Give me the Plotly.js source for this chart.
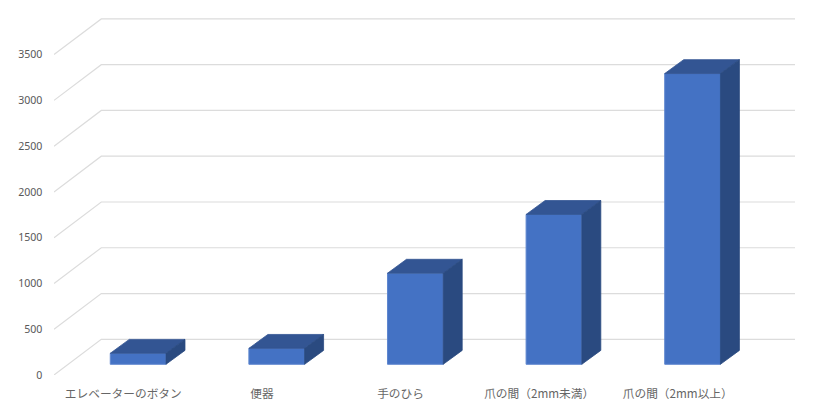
<!DOCTYPE html>
<html>
<head>
<meta charset="utf-8">
<script src="https://cdn.plot.ly/plotly-3.0.1.min.js"></script>
<style>html,body{margin:0;padding:0;background:#fff}#c{width:817px;height:407px}</style>
</head>
<body>
<div id="c"></div>
<script>
const categories = ["エレベーターのボタン", "便器", "手のひら", "爪の間（2mm未満）", "爪の間（2mm以上）"];
const values = [120, 174, 995, 1637, 3176];
const yTicks = [0, 500, 1000, 1500, 2000, 2500, 3000, 3500];

const xMin = -0.5, xMax = 4.846;
const yMax = 3900;
const wallDx = 0.341, wallDy = 390;   // oblique offset of the back wall
const barShift = 0.107, barLift = 117; // where the bar's front stands on the floor
const barWidth = 0.402;
const depthDx = 0.137, depthDy = 152;  // oblique depth of each bar

const indices = categories.map((_, i) => i);
const shapes = yTicks.map(v => ({
  type: "path", layer: "below", xref: "x", yref: "y",
  path: `M${xMin},${v} L${xMin + wallDx},${v + wallDy} L${xMax},${v + wallDy}`,
  line: {color: "#dcdcdc", width: 1.2}
}));

const front = {
  type: "bar", x: indices.map(i => i + barShift), y: values, base: values.map(() => barLift),
  width: barWidth,
  marker: {color: "#4472c4", line: {color: "#5f87cf", width: 1}},
  hoverinfo: "y"
};
const face = (xs, ys, color) => ({
  type: "scatter", mode: "lines", x: xs, y: ys, fill: "toself", fillcolor: color,
  line: {color: color, width: 0.8}, hoverinfo: "skip"
});
const tops = indices.map(i => {
  const l = i + barShift - barWidth / 2, r = l + barWidth, t = barLift + values[i];
  return face([l, r, r + depthDx, l + depthDx, l], [t, t, t + depthDy, t + depthDy, t], "#335593");
});
const sides = indices.map(i => {
  const r = i + barShift + barWidth / 2, t = barLift + values[i];
  return face([r, r + depthDx, r + depthDx, r, r],
              [barLift, barLift + depthDy, t + depthDy, t, barLift], "#2a4a80");
});

Plotly.newPlot("c", [front, ...tops, ...sides], {
  width: 817, height: 407,
  margin: {l: 54, r: 22, t: 17.6, b: 32},
  paper_bgcolor: "#fff", plot_bgcolor: "#fff",
  showlegend: false,
  shapes: shapes,
  xaxis: {
    range: [xMin, xMax], showgrid: false, zeroline: false, showline: false,
    tickmode: "array", tickvals: indices, ticktext: categories,
    ticks: "outside", ticklen: 8, tickcolor: "rgba(0,0,0,0)", tickangle: 0,
    tickfont: {family: "'Noto Sans CJK JP', 'Noto Sans', sans-serif", size: 11.7, color: "#666666"}
  },
  yaxis: {
    range: [0, yMax], showgrid: false, zeroline: false, showline: false,
    tickmode: "array", tickvals: yTicks, ticktext: yTicks.map(String),
    ticks: "outside", ticklen: 8.5, tickcolor: "rgba(0,0,0,0)",
    tickfont: {family: "'Noto Sans', sans-serif", size: 10.6, color: "#595959"}
  }
}, {displayModeBar: false, staticPlot: true});
</script>
</body>
</html>
